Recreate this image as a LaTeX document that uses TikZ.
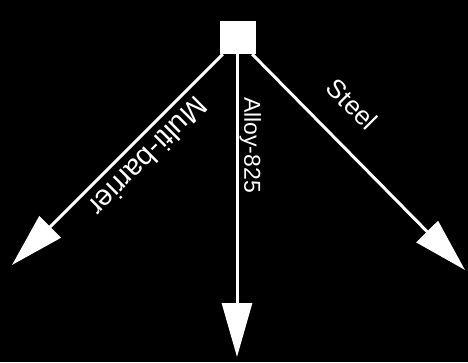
\documentclass[tikz,border=0pt]{standalone}
\usepackage{fontspec}
\setmainfont{Liberation Sans}
\usetikzlibrary{arrows.meta}

\begin{document}
\begin{tikzpicture}[
    x=1pt,
    y=1pt,
    lead/.style={white, line width=3pt, -{Triangle[length=54pt, width=30pt]}},
    tag/.style={white, anchor=south}
]
\begin{scope}
  \fill[black] (0,0) rectangle (468,362);
  \useasboundingbox (0,0) rectangle (468,362);

  \node[fill=white, minimum width=36pt, minimum height=33pt, inner sep=0pt] (src) at (238,324.5) {};
  \coordinate (multi) at (12,97);
  \coordinate (alloy) at (237,5);
  \coordinate (steel) at (465,92);

  \draw[lead] ([xshift=3pt]src.south west) -- (multi)
    node[tag, pos=0.42, rotate=-135, inner sep=8pt,
         font=\fontsize{29}{29}\selectfont] {Multi-barrier};
  \draw[lead] (src.south -| alloy) -- (alloy)
    node[tag, pos=0.30, rotate=-90, inner sep=1pt,
         font=\fontsize{23}{23}\selectfont] {Alloy-825};
  \draw[lead] ([xshift=-4pt]src.south east) -- (steel)
    node[tag, pos=0.35, rotate=-45, inner sep=25pt,
         font=\fontsize{26}{26}\selectfont] {Steel};
\end{scope}
\end{tikzpicture}
\end{document}
